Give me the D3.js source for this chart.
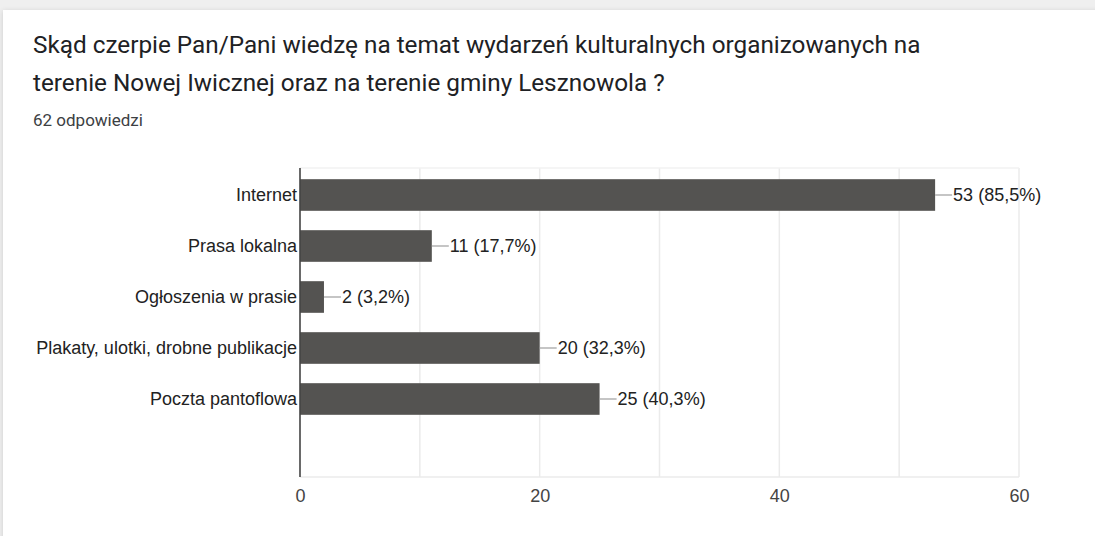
<!DOCTYPE html>
<html><head><meta charset="utf-8">
<script src="https://cdn.jsdelivr.net/npm/d3@7"></script>
<style>
html,body{margin:0;padding:0;background:#efefef;}
svg{display:block;}
</style></head>
<body><svg id="c" width="1095" height="536"></svg>
<script>
const titleLines = ["Skąd czerpie Pan/Pani wiedzę na temat wydarzeń kulturalnych organizowanych na",
                    "terenie Nowej Iwicznej oraz na terenie gminy Lesznowola ?"];
const subtitle = "62 odpowiedzi";
const categories = ["Internet","Prasa lokalna","Ogłoszenia w prasie","Plakaty, ulotki, drobne publikacje","Poczta pantoflowa"];
const values = [53, 11, 2, 20, 25];
const percents = ["85,5%","17,7%","3,2%","32,3%","40,3%"];
const tickValues = [0, 20, 40, 60];
const gridValues = [10, 20, 30, 40, 50, 60];

const svg = d3.select("#c");
const defs = svg.append("defs");
const f = defs.append("filter").attr("id","sh").attr("x","-5%").attr("y","-5%").attr("width","110%").attr("height","110%");
f.append("feDropShadow").attr("dx",0).attr("dy",1).attr("stdDeviation",2.5).attr("flood-color","#000").attr("flood-opacity",0.15);

svg.append("rect").attr("x",3).attr("y",10).attr("width",1120).attr("height",560).attr("fill","#fff").attr("filter","url(#sh)");

svg.append("g").selectAll("text").data(titleLines).join("text")
  .attr("x",33).attr("y",(d,i)=>53+i*38)
  .attr("font-family","Roboto, Arial, sans-serif").attr("font-size",24.3).attr("fill","#202124")
  .text(d=>d);
svg.append("text").attr("x",33).attr("y",126)
  .attr("font-family","Roboto, Arial, sans-serif").attr("font-size",17).attr("fill","#3c4043")
  .text(subtitle);

const x = d3.scaleLinear().domain([0,60]).range([300,1019]);
const y = d3.scaleBand().domain(categories).range([169.5,424.5]).paddingInner(0.38).paddingOuter(0.19);
const plotTop = 168, plotBottom = 477;

const font = "'Liberation Sans', Arial, sans-serif";
const fs = 18;

// grid
svg.append("g").selectAll("line").data(gridValues).join("line")
  .attr("x1",d=>x(d)).attr("x2",d=>x(d)).attr("y1",plotTop).attr("y2",plotBottom)
  .attr("stroke","#ebebeb").attr("stroke-width",1.5);
svg.append("line").attr("x1",x(0)).attr("x2",x(60)).attr("y1",plotTop).attr("y2",plotTop).attr("stroke","#f2f2f2").attr("stroke-width",1.5);
svg.append("line").attr("x1",x(0)).attr("x2",x(60)).attr("y1",plotBottom).attr("y2",plotBottom).attr("stroke","#ebebeb").attr("stroke-width",1.5);

// bars
svg.append("g").selectAll("rect").data(values).join("rect")
  .attr("x",x(0)).attr("y",(d,i)=>y(categories[i]))
  .attr("width",d=>x(d)-x(0)).attr("height",y.bandwidth())
  .attr("fill","#545351");

// connectors + labels
const lab = svg.append("g");
values.forEach((v,i)=>{
  const cy = y(categories[i]) + y.bandwidth()/2;
  lab.append("line").attr("x1",x(v)).attr("x2",x(v)+17).attr("y1",cy).attr("y2",cy).attr("stroke","#9e9e9e").attr("stroke-width",1.2);
  lab.append("text").attr("x",x(v)+18).attr("y",cy).attr("dy","0.36em")
    .attr("font-family",font).attr("font-size",fs).attr("fill","#222").text(`${v} (${percents[i]})`);
});

// y axis
const ya = d3.axisLeft(y).tickSize(0).tickPadding(3);
const yg = svg.append("g").attr("transform",`translate(${x(0)},0)`).call(ya);
yg.select(".domain").remove();
yg.selectAll("text").attr("font-family",font).attr("font-size",fs).attr("fill","#222");
svg.append("line").attr("x1",x(0)).attr("x2",x(0)).attr("y1",plotTop).attr("y2",plotBottom).attr("stroke","#444").attr("stroke-width",1.6);

// x axis
const xa = d3.axisBottom(x).tickValues(tickValues).tickSize(0).tickPadding(12).tickFormat(d3.format("d"));
const xg = svg.append("g").attr("transform",`translate(0,${plotBottom})`).call(xa);
xg.select(".domain").remove();
xg.selectAll("text").attr("font-family",font).attr("font-size",fs).attr("fill","#444");
</script></body></html>
